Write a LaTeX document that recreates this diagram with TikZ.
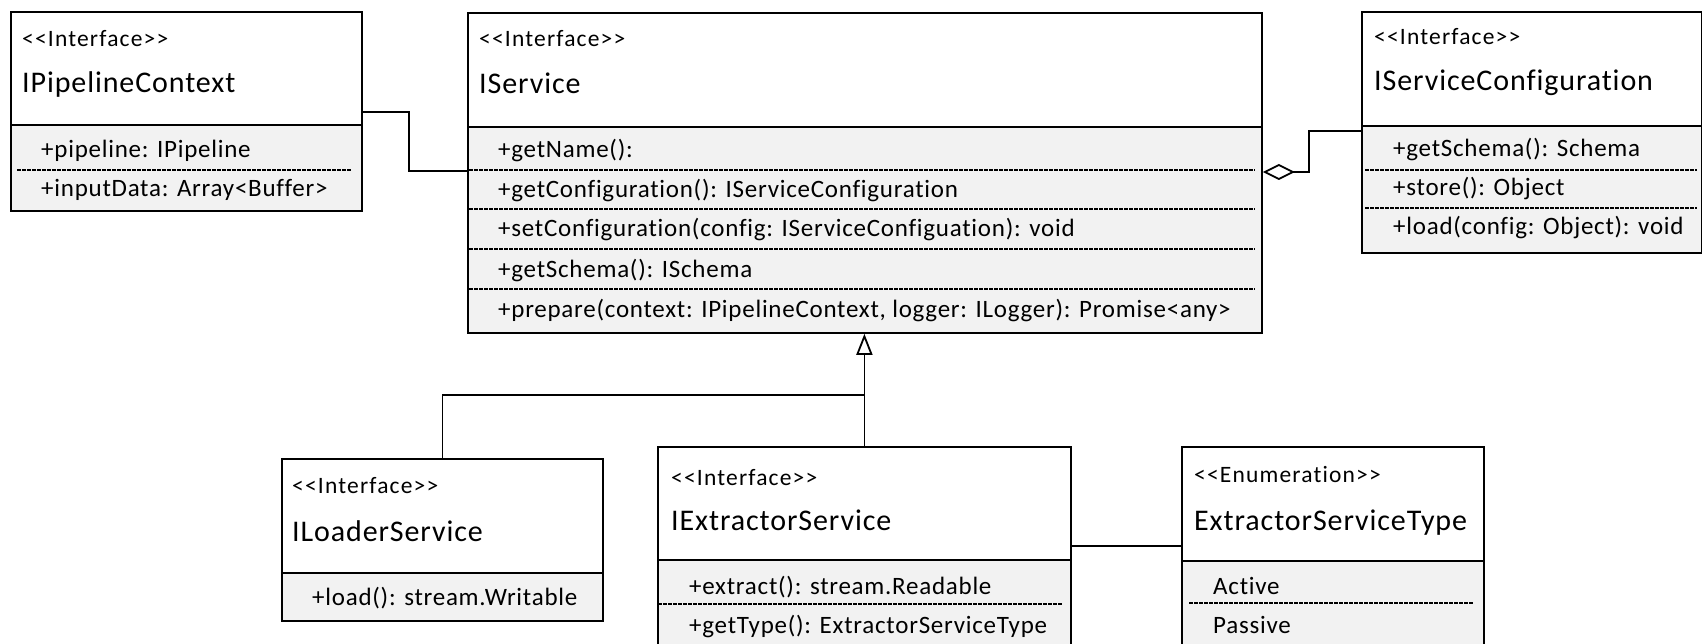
\documentclass[tikz,border=0pt]{standalone}
\usepackage{fontspec}
\setmainfont{Carlito}[Ligatures=NoCommon, LetterSpace=3]
\newfontfamily\stfont{Carlito}[Ligatures=NoCommon, LetterSpace=5]
\usetikzlibrary{arrows.meta}
\definecolor{memfill}{RGB}{242,242,242}
\begin{document}
\begin{tikzpicture}[x=1pt,y=-1pt,
 box/.style={draw, line width=1.8pt, inner sep=0pt, anchor=north west},
 sep/.style={line width=1.8pt},
 dsep/.style={line width=1.1pt, dash pattern=on 3.5pt off 1.5pt},
 link/.style={line width=1.8pt},
 stereo/.style={anchor=base west, inner sep=0pt, font=\stfont\fontsize{23.5}{28}\selectfont},
 cname/.style={anchor=base west, inner sep=0pt, font=\fontsize{30}{36}\selectfont},
 member/.style={anchor=base west, inner sep=0pt, font=\fontsize{25}{30}\selectfont},
]
\useasboundingbox (0,0) rectangle (1702,644);
\clip (0,0) rectangle (1702,644);

% IPipelineContext
\fill[memfill] (10,125) rectangle (361,210);
\node[box, minimum width=351pt, minimum height=199pt] (ctx) at (10,11) {};
\draw[sep] (10,125) -- (361,125);
\draw[dsep] (17,170) -- (352,170);
\node[stereo] (ctxs) at (22,47) {<{}<Interface>{}>};
\node[cname] (ctxn) at (22,93) {IPipelineContext};
\node[member] (ctxm1) at (41,158) {+pipeline: IPipeline};
\node[member] (ctxm2) at (41,197) {+inputData: Array<Buffer>};

% IService
\fill[memfill] (467,127) rectangle (1261,332);
\node[box, minimum width=794pt, minimum height=320pt] (svc) at (467,12) {};
\draw[sep] (467,127) -- (1261,127);
\foreach \yy in {170,209,249,289} \draw[dsep] (469,\yy) -- (1255,\yy);
\node[stereo] (svcs) at (479,47) {<{}<Interface>{}>};
\node[cname] (svcn) at (479,94) {IService};
\node[member] (svcm1) at (498,158) {+getName():};
\node[member] (svcm2) at (498,198) {+getConfiguration(): IServiceConfiguration};
\node[member] (svcm3) at (498,237) {+setConfiguration(config: IServiceConfiguation): void};
\node[member] (svcm4) at (498,277) {+getSchema(): ISchema};
\node[member] (svcm5) at (498,317) {+prepare(context: IPipelineContext, logger: ILogger): Promise<any>};

% IServiceConfiguration
\fill[memfill] (1361,126) rectangle (1701,252);
\node[box, minimum width=340pt, minimum height=241pt] (cfg) at (1361,11) {};
\draw[sep] (1361,126) -- (1701,126);
\foreach \yy in {170,208} \draw[dsep] (1365,\yy) -- (1697,\yy);
\node[stereo] (cfgs) at (1374,45) {<{}<Interface>{}>};
\node[cname] (cfgn) at (1374,91) {IServiceConfiguration};
\node[member] (cfgm1) at (1393,157) {+getSchema(): Schema};
\node[member] (cfgm2) at (1393,196) {+store(): Object};
\node[member] (cfgm3) at (1393,235) {+load(config: Object): void};

% ILoaderService
\fill[memfill] (281,573) rectangle (602,620);
\node[box, minimum width=321pt, minimum height=162pt] (ldr) at (281,458) {};
\draw[sep] (281,573) -- (602,573);
\node[stereo] (ldrs) at (292,493) {<{}<Interface>{}>};
\node[cname] (ldrn) at (292,541) {ILoaderService};
\node[member] (ldrm1) at (312,605) {+load(): stream.Writable};

% IExtractorService
\fill[memfill] (657,560) rectangle (1070,670);
\node[box, minimum width=413pt, minimum height=224pt] (ext) at (657,446) {};
\draw[sep] (657,560) -- (1070,560);
\draw[dsep] (658,604) -- (1063,604);
\node[stereo] (exts) at (671,485) {<{}<Interface>{}>};
\node[cname] (extn) at (671,530) {IExtractorService};
\node[member] (extm1) at (689,594) {+extract(): stream.Readable};
\node[member] (extm2) at (689,633) {+getType(): ExtractorServiceType};

% ExtractorServiceType
\fill[memfill] (1181,561) rectangle (1483,670);
\node[box, minimum width=302pt, minimum height=224pt] (est) at (1181,446) {};
\draw[sep] (1181,561) -- (1483,561);
\draw[dsep] (1189,603) -- (1474,603);
\node[stereo] (ests) at (1194,482) {<{}<Enumeration>{}>};
\node[cname] (estn) at (1194,530) {ExtractorServiceType};
\node[member] (estm1) at (1213,594) {Active};
\node[member] (estm2) at (1213,633) {Passive};

% connectors
\coordinate (bendA) at (409,112);
\draw[link] (ctx.east |- bendA) -- (bendA) |- (svc.west |- 0,171);
\coordinate (bendB) at (1309,131);
\draw[link, {Diamond[open, length=32pt, width=16pt]}-] (svc.east |- 0,172) -| (bendB) -- (cfg.west |- bendB);
\draw[link, -{Triangle[open, length=21pt, width=16pt]}] (ext.north) -- (ext.north |- svc.south);
\draw[link] (ldr.north) |- (ext.north |- 0,395);
\draw[link] (ext.east |- 0,546) -- (est.west |- 0,546);
\end{tikzpicture}
\end{document}
